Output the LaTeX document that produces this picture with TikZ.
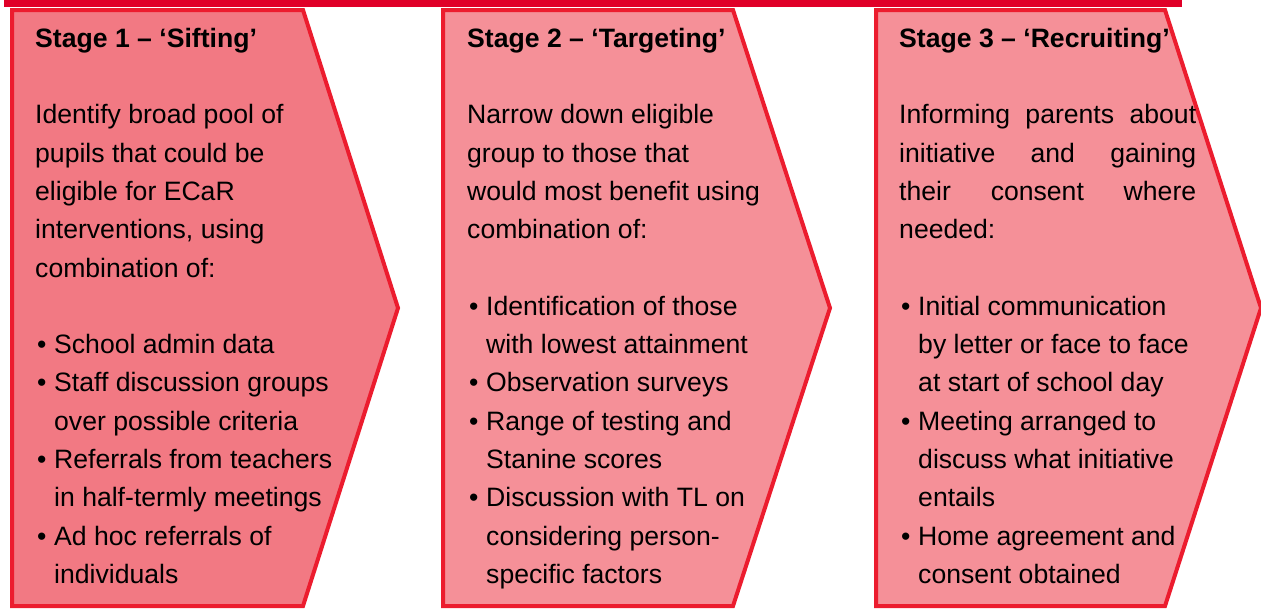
\documentclass[tikz,border=0pt]{standalone}
\usepackage{fontspec}
\setmainfont{Liberation Sans}
\usetikzlibrary{positioning}

\definecolor{barred}{HTML}{E00028}
\definecolor{edgered}{HTML}{EC1C2E}
\definecolor{firstfill}{HTML}{F27983}
\definecolor{stagefill}{HTML}{F59098}

% bullet and its hanging indent
\newcommand{\bul}{\makebox[19pt][l]{\hspace{2pt}•}}
\newcommand{\hang}{\hspace*{19pt}}

\begin{document}
\begin{tikzpicture}
        [x=1pt, y=-1pt,
        chevron/.style={draw=edgered, line width=4pt, line join=miter},
        stagetext/.style={anchor=north west, inner sep=0pt, align=left,
          font=\fontsize{26.6}{38.3}\selectfont}]

        \useasboundingbox (0,0) rectangle (1261,608);

        % red bar along the top
        \fill[barred] (4,0) rectangle (1182,7);

        % the three chevrons
        \draw[chevron, fill=firstfill] (12,10) -- (303,10) -- (398,308) -- (303,606) -- (12,606) -- cycle;
        \draw[chevron, fill=stagefill] (443,10) -- (733,10) -- (830,308) -- (733,606) -- (443,606) -- cycle;
        \draw[chevron, fill=stagefill] (876,10) -- (1165,10) -- (1261,308) -- (1165,606) -- (876,606) -- cycle;

        % stage texts
        \node[stagetext] (sift) at (35,27) {\rule{0pt}{20pt}\textbf{Stage 1 – ‘Sifting’}\\[38.3pt]
          Identify broad pool of\\
          pupils that could be\\
          eligible for ECaR\\
          interventions, using\\
          combination of:\\[38.3pt]
          \bul School admin data\\
          \bul Staff discussion groups\\
          \hang over possible criteria\\
          \bul Referrals from teachers\\
          \hang in half-termly meetings\\
          \bul Ad hoc referrals of\\
          \hang individuals};

        \node[stagetext] (target) at (467,27) {\rule{0pt}{20pt}\textbf{Stage 2 – ‘Targeting’}\\[38.3pt]
          Narrow down eligible\\
          group to those that\\
          would most benefit using\\
          combination of:\\[38.3pt]
          \bul Identification of those\\
          \hang with lowest attainment\\
          \bul Observation surveys\\
          \bul Range of testing and\\
          \hang Stanine scores\\
          \bul Discussion with TL on\\
          \hang considering person-\\
          \hang specific factors};

        \node[stagetext] (recruit) at (899,27) {\rule{0pt}{20pt}\textbf{Stage 3 – ‘Recruiting’}\\[38.3pt]
          \makebox[297pt][s]{Informing parents about}\\
          \makebox[297pt][s]{initiative and gaining}\\
          \makebox[297pt][s]{their consent where}\\
          needed:\\[38.3pt]
          \bul Initial communication\\
          \hang by letter or face to face\\
          \hang at start of school day\\
          \bul Meeting arranged to\\
          \hang discuss what initiative\\
          \hang entails\\
          \bul Home agreement and\\
          \hang consent obtained};

        \end{tikzpicture}
\end{document}
